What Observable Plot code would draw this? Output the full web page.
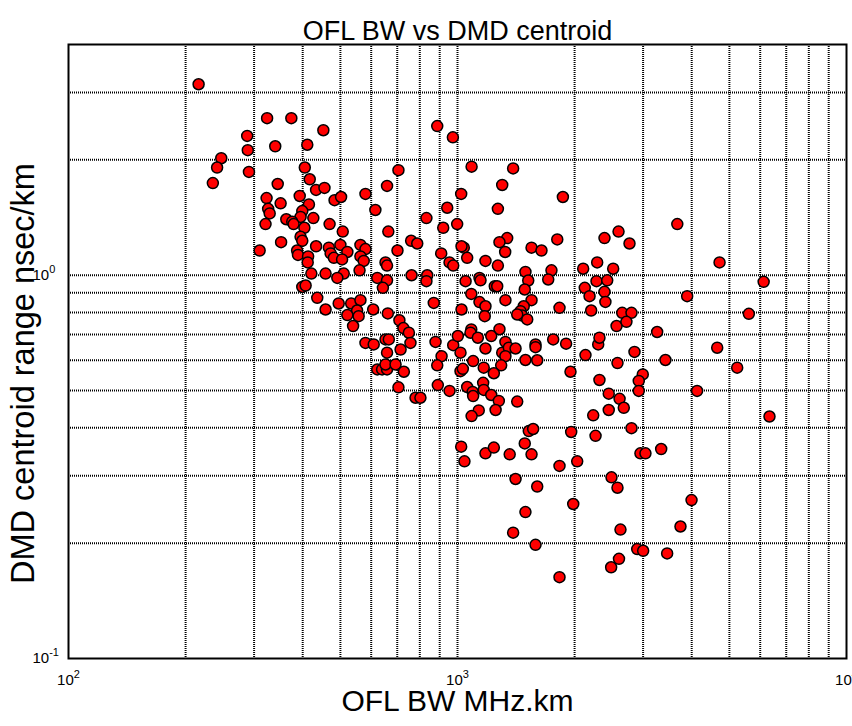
<!DOCTYPE html>
<html>
<head>
<meta charset="utf-8">
<script src="https://cdn.jsdelivr.net/npm/d3@7"></script>
<script src="https://cdn.jsdelivr.net/npm/@observablehq/plot@0.6"></script>
<style>
  body { margin: 0; background: #fff; }
  #chart svg { display: block; }
</style>
</head>
<body>
<div id="chart"></div>
<script>
// Overfilled-launch bandwidth (MHz.km) of each fibre
const ofl_bw = [
  216, 324, 374, 452, 288, 289, 340, 411, 247, 241, 291, 235, 405, 417, 345, 433, 455, 705, 659, 580,
  323, 351, 393, 415, 483, 502, 615, 326, 329, 399, 395, 426, 363, 376, 379, 321, 404, 469, 507, 664,
  395, 399, 352, 310, 433, 387, 389, 413, 412, 467, 472, 481, 500, 521, 505, 563, 580, 563, 574, 560,
  701, 653, 659, 421, 458, 510, 491, 622, 659, 643, 399, 407, 436, 495, 458, 533, 563, 552, 521, 557,
  539, 607, 662, 709, 726,
  887, 973, 1087, 1390, 1303, 1866, 1022, 941, 1270, 832, 919, 998, 760, 788, 1342, 1282, 1805, 2387, 2594, 1038,
  1024, 908, 1059, 954, 975, 1180, 1326, 1550, 1644, 1270, 762, 836, 832, 1049, 1139, 1146, 1247, 1265, 1495, 1520,
  1744, 1711, 2104, 2286, 2513, 2277, 2426, 2124, 2185, 2387, 2400, 1085, 1139, 1180, 869, 1024, 1175, 1489, 1550, 1328,
  1480, 1452, 1466, 1511, 1424, 1829, 2206, 1085, 1282, 2564,
  2768, 3673, 4717, 6124, 3894, 5610, 2651, 2801, 2718, 3260,
  580, 609, 653, 666, 659, 714, 622, 640, 659, 653, 693, 705,
  750, 757, 728, 878, 975, 1002, 1080, 1128, 1221, 910, 887, 1018, 1097, 1180, 1328, 1303, 1355, 1410, 1328,
  1495, 1603, 1587, 1587, 1762, 1902, 2133, 2300, 2317, 2578, 1168, 1295, 1240, 1018, 1032, 890, 954, 1059, 1094, 1097,
  1164, 1168, 1221, 1277, 780, 803, 1952, 2317, 1424, 1134, 1087, 1253, 1525, 1565, 1489, 1960, 2264, 2233, 2448, 2448,
  1022, 1042, 1180, 1240, 1362, 1550, 1829, 2031, 2488, 2578, 1410, 1603, 1984, 1495, 1390, 1587, 2624, 1829, 2483, 2601,
  2851, 3424, 4652, 5236, 2994, 2924, 2924, 2610, 2676, 4130, 6339, 2801, 2953, 3042, 3339, 3996, 3743, 2897, 3001, 3459
];

// DMD centroid range (nsec/km) of the same fibres
const dmd_centroid = [
  3.15, 2.57, 2.57, 2.39, 2.31, 2.12, 2.17, 2.19, 2.02, 1.91, 1.86, 1.74, 1.91, 1.78, 1.73, 1.67, 1.69, 1.88, 1.71, 1.63,
  1.59, 1.54, 1.61, 1.53, 1.57, 1.60, 1.48, 1.49, 1.45, 1.47, 1.42, 1.41, 1.40, 1.38, 1.36, 1.36, 1.33, 1.36, 1.30, 1.30,
  1.26, 1.23, 1.22, 1.16, 1.19, 1.16, 1.13, 1.12, 1.08, 1.18, 1.14, 1.11, 1.20, 1.15, 1.10, 1.20, 1.17, 1.12, 1.09, 1.03,
  1.16, 1.08, 1.06, 1.01, 1.01, 1.01, 0.984, 0.984, 0.970, 0.927, 0.932, 0.940, 0.873, 0.844, 0.814, 0.844, 0.861, 0.809, 0.787, 0.782,
  0.737, 0.814, 0.795, 0.763, 0.728,
  2.45, 2.29, 1.92, 1.90, 1.72, 1.60, 1.63, 1.50, 1.49, 1.41, 1.33, 1.36, 1.23, 1.21, 1.25, 1.22, 1.24, 1.25, 1.30, 1.18,
  1.19, 1.14, 1.11, 1.08, 1.06, 1.09, 1.15, 1.18, 1.16, 1.06, 1.00, 1.00, 0.965, 0.965, 0.984, 0.970, 0.936, 0.936, 1.02, 0.969,
  1.03, 0.975, 1.04, 1.08, 1.04, 0.965, 0.970, 0.927, 0.882, 0.905, 0.852, 0.894, 0.851, 0.830, 0.847, 0.814, 0.782, 0.918, 0.861, 0.861,
  0.830, 0.806, 0.785, 0.767, 0.790, 0.822, 0.809, 0.722, 0.723, 0.737,
  1.21, 1.36, 1.08, 0.961, 0.882, 0.793, 0.798, 0.798, 0.756, 0.711,
  0.666, 0.660, 0.680, 0.680, 0.628, 0.640, 0.568, 0.568, 0.568, 0.585, 0.585, 0.510,
  0.708, 0.666, 0.560, 0.670, 0.657, 0.694, 0.708, 0.687, 0.694, 0.615, 0.582, 0.628, 0.597, 0.644, 0.670, 0.628, 0.647, 0.644, 0.615,
  0.601, 0.600, 0.660, 0.649, 0.680, 0.663, 0.619, 0.660, 0.687, 0.590, 0.574, 0.582, 0.555, 0.562, 0.570, 0.517, 0.499, 0.511, 0.496, 0.484,
  0.524, 0.502, 0.487, 0.470, 0.479, 0.479, 0.560, 0.533, 0.468, 0.444, 0.429, 0.445, 0.392, 0.397, 0.364, 0.390, 0.381, 0.431, 0.491, 0.445,
  0.357, 0.327, 0.343, 0.355, 0.341, 0.341, 0.318, 0.327, 0.297, 0.279, 0.294, 0.281, 0.253, 0.241, 0.213, 0.198, 0.217, 0.163, 0.173, 0.182,
  0.631, 0.601, 0.647, 0.574, 0.551, 0.530, 0.499, 0.476, 0.451, 0.499, 0.428, 0.399, 0.343, 0.343, 0.352, 0.259, 0.221, 0.193, 0.191, 0.188
];

// Labelled decades on each axis
const xTicks = [100, 1000, 10000];
const yTicks = [0.1, 1];

// Dotted grid lines at every 1..9 step of each decade
const xGrid = [200, 300, 400, 500, 600, 700, 800, 900, 1000, 2000, 3000, 4000, 5000, 6000, 7000, 8000, 9000];
const yGrid = [0.2, 0.3, 0.4, 0.5, 0.6, 0.7, 0.8, 0.9, 1, 2, 3];

const titleText = "OFL BW vs DMD centroid";
const xLabel = "OFL BW MHz.km";
const yLabel = "DMD centroid range nsec/km";

const fibres = ofl_bw.map((bw, i) => ({bw, dmd: dmd_centroid[i]}));
const font = "'Liberation Sans', Arial, Helvetica, sans-serif";
const gridStyle = {stroke: "#000", strokeOpacity: 1, strokeWidth: 2, strokeDasharray: "1,1"};
const exponent = (d) => String(Math.round(Math.log10(d)));

const chart = Plot.plot({
  width: 852,
  height: 726,
  marginTop: 44,
  marginBottom: 68,
  marginLeft: 68,
  marginRight: 6,
  style: {fontFamily: font, background: "#fff", color: "#000", overflow: "visible"},
  x: {type: "log", domain: [100, 10000]},
  y: {type: "log", domain: [0.1, 4]},
  marks: [
    Plot.gridX(xGrid, gridStyle),
    Plot.gridY(yGrid, gridStyle),
    Plot.axisX(xTicks, {tickSize: 0, tickPadding: 16, fontSize: 15, tickFormat: exponent, label: null}),
    Plot.axisY(yTicks, {tickSize: 0, tickPadding: 36, fontSize: 15, tickFormat: exponent, label: null}),
    Plot.dot(fibres, {x: "bw", y: "dmd", r: 5.5, fill: "#ff0000", stroke: "#000", strokeWidth: 1.5}),
    Plot.frame({stroke: "#000", strokeWidth: 2}),
    Plot.text([titleText], {text: (d) => d, frameAnchor: "top", textAnchor: "middle", dy: -24, fontSize: 27}),
    Plot.text([xLabel], {text: (d) => d, frameAnchor: "bottom", textAnchor: "middle", dy: 52, fontSize: 30}),
    Plot.text([yLabel], {text: (d) => d, frameAnchor: "left", textAnchor: "middle", dx: -45, dy: 22, rotate: -90, fontSize: 32.5})
  ]
});

// Write the decade tick labels as 10 with a raised exponent
const svg = d3.select(chart);
svg.selectAll('g[aria-label="x-axis tick label"] text, g[aria-label="y-axis tick label"] text')
  .each(function () {
    const exp = this.textContent;
    const t = d3.select(this);
    t.text(null);
    t.append("tspan").text("10");
    t.append("tspan").attr("dy", "-0.62em").attr("font-size", "11px").text(exp);
  });
// y labels start at a common left edge, so the exponent trails the "10"
svg.selectAll('g[aria-label="y-axis tick label"] text').attr("text-anchor", "start");

document.getElementById("chart").append(chart);
</script>
</body>
</html>
